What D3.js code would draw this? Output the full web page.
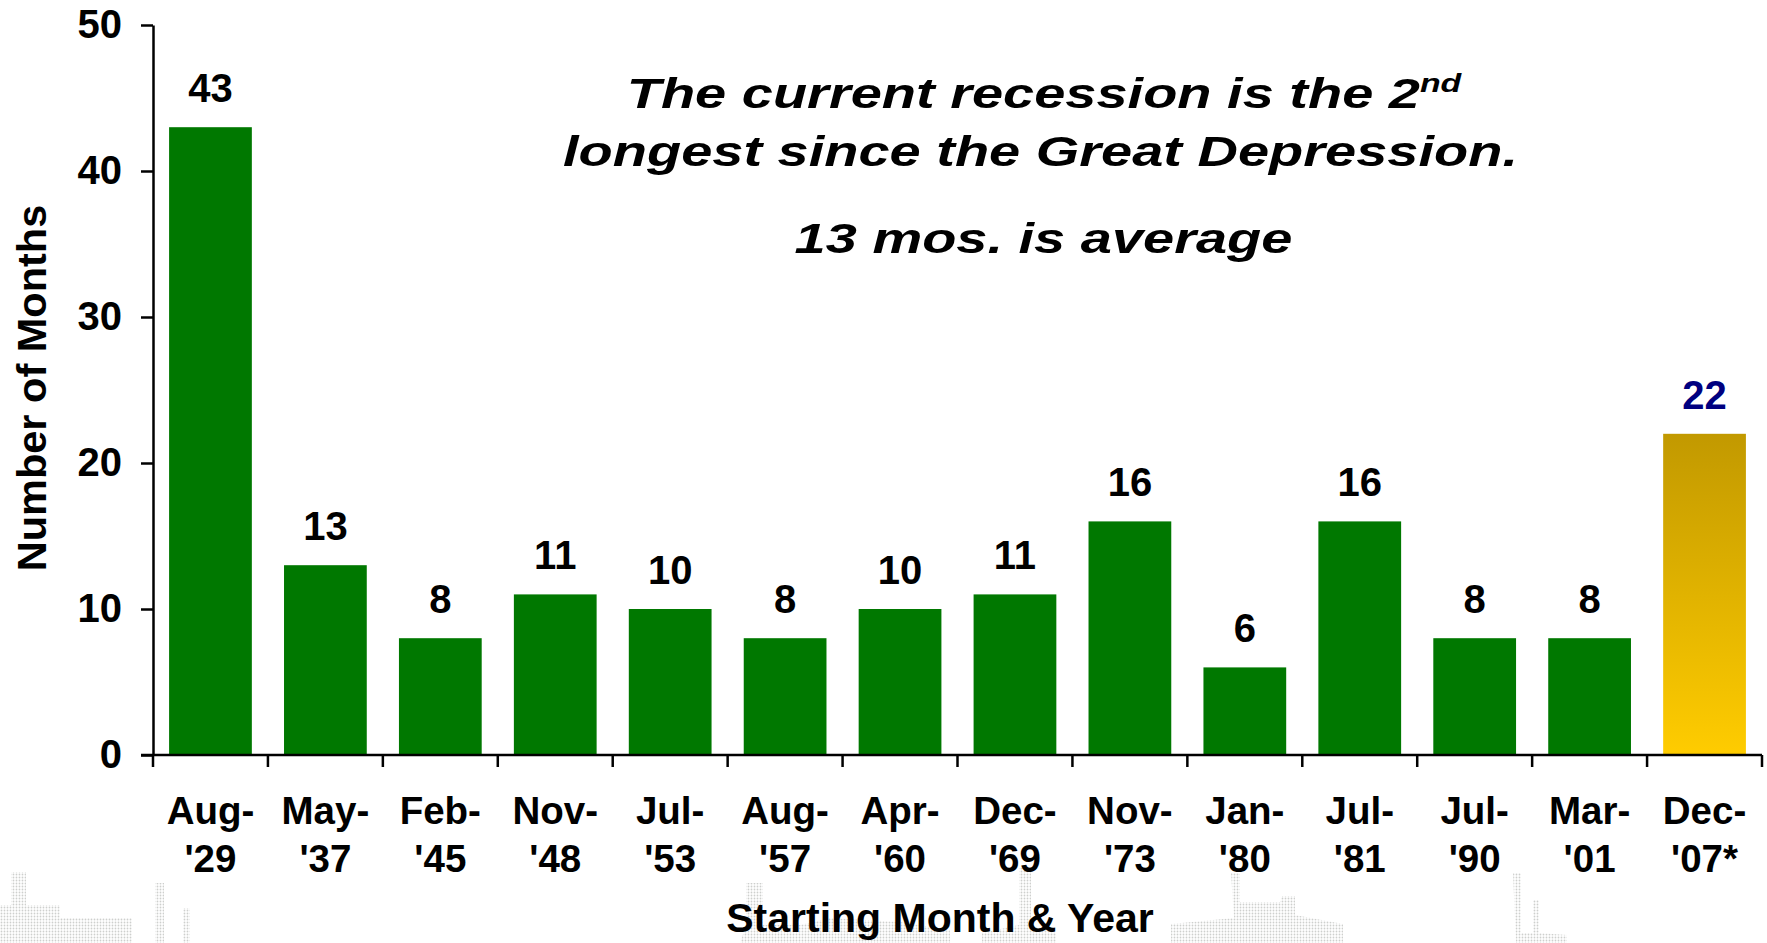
<!DOCTYPE html>
<html>
<head>
<meta charset="utf-8">
<script src="https://cdn.jsdelivr.net/npm/d3@7/dist/d3.min.js"></script>
<style>
  html, body { margin: 0; padding: 0; background: #ffffff; }
  svg { display: block; }
  text { font-family: "Liberation Sans", Arial, sans-serif; }
</style>
</head>
<body>
<svg id="chart" width="1767" height="943"></svg>
<script>
// Recession start dates (month / two-digit year) and their length in months
const startMonths = ["Aug-", "May-", "Feb-", "Nov-", "Jul-", "Aug-", "Apr-", "Dec-", "Nov-", "Jan-", "Jul-", "Jul-", "Mar-", "Dec-"];
const startYears  = ["'29", "'37", "'45", "'48", "'53", "'57", "'60", "'69", "'73", "'80", "'81", "'90", "'01", "'07*"];
const durations   = [43, 13, 8, 11, 10, 8, 10, 11, 16, 6, 16, 8, 8, 22];
const yTicks      = [0, 10, 20, 30, 40, 50];
const currentIndex = 13;   // the ongoing recession, highlighted in gold

const noteLines = [
  { text: "The current recession is the 2", sup: "nd" },
  { text: "longest since the Great Depression." },
  { text: "13 mos. is average" }
];

const svg = d3.select("#chart");
const ids = startMonths.map((m, i) => m + startYears[i]);

const plot = { left: 153, right: 1762, top: 25, bottom: 755 };

const x = d3.scaleBand()
  .domain(ids)
  .range([plot.left, plot.right])
  .paddingInner(0.28)
  .paddingOuter(0.14);

const y = d3.scaleLinear()
  .domain([0, 50])
  .range([plot.bottom, plot.top]);

const defs = svg.append("defs");

// gold gradient for the current recession bar
const grad = defs.append("linearGradient")
  .attr("id", "goldFill")
  .attr("x1", 0).attr("y1", 0).attr("x2", 0).attr("y2", 1);
grad.append("stop").attr("offset", "0%").attr("stop-color", "#c29900");
grad.append("stop").attr("offset", "100%").attr("stop-color", "#ffcc00");

// halftone dot texture for the faded background scenery
const dots = defs.append("pattern")
  .attr("id", "halftone")
  .attr("width", 3).attr("height", 3)
  .attr("patternUnits", "userSpaceOnUse");
dots.append("circle").attr("cx", 1.5).attr("cy", 1.5).attr("r", 0.9).attr("fill", "#8c8f8a");

defs.append("filter")
  .attr("id", "soften")
  .append("feGaussianBlur")
  .attr("stdDeviation", 0.6);

// faded industrial skyline along the bottom edge
const scenery = [
  "M0,920 L0,905 L11,905 L11,872 L26,872 L26,905 L60,905 L60,918 L132,918 L132,943 L0,943 Z",
  "M155,883 L164,883 L164,943 L155,943 Z",
  "M183,908 L190,908 L190,943 L183,943 Z",
  "M746,883 L763,883 L763,925 L800,925 L830,918 L900,922 L950,930 L950,943 L740,943 L746,925 Z",
  "M1019,868 L1031,868 L1031,925 L1056,933 L1056,943 L982,943 L982,933 L1019,925 Z",
  "M1231,873 L1240,873 L1240,902 L1280,902 L1282,896 L1295,896 L1295,915 L1343,924 L1343,943 L1171,943 L1171,924 L1234,918 Z",
  "M1513,873 L1521,873 L1521,933 L1533,933 L1533,900 L1539,900 L1539,933 L1567,935 L1567,943 L1516,943 Z"
];
svg.append("g")
  .attr("opacity", 0.42)
  .attr("filter", "url(#soften)")
  .selectAll("path")
  .data(scenery)
  .join("path")
  .attr("d", d => d)
  .attr("fill", "url(#halftone)");

// bars
svg.append("g")
  .selectAll("rect")
  .data(durations)
  .join("rect")
  .attr("x", (d, i) => x(ids[i]))
  .attr("y", d => y(d))
  .attr("width", x.bandwidth())
  .attr("height", d => y(0) - y(d))
  .attr("fill", (d, i) => i === currentIndex ? "url(#goldFill)" : "#007800");

// value labels
svg.append("g")
  .selectAll("text")
  .data(durations)
  .join("text")
  .attr("x", (d, i) => x(ids[i]) + x.bandwidth() / 2)
  .attr("y", d => y(d) - 25)
  .attr("text-anchor", "middle")
  .attr("font-size", 40)
  .attr("font-weight", "bold")
  .attr("fill", (d, i) => i === currentIndex ? "#000080" : "#000000")
  .text(d => d);

// y axis
const yAxis = svg.append("g")
  .attr("transform", `translate(${plot.left},0)`)
  .call(d3.axisLeft(y).tickValues(yTicks).tickSize(12).tickSizeOuter(0).tickPadding(19));
yAxis.select(".domain").attr("stroke", "#000").attr("stroke-width", 2.5);
yAxis.selectAll(".tick line").attr("stroke", "#000").attr("stroke-width", 2.5);
yAxis.selectAll(".tick text")
  .attr("font-family", "Liberation Sans, Arial, sans-serif")
  .attr("font-size", 40)
  .attr("font-weight", "bold")
  .attr("fill", "#000");

// x axis baseline with ticks at category boundaries
const xAxis = svg.append("g");
xAxis.append("line")
  .attr("x1", plot.left - 12).attr("x2", plot.right)
  .attr("y1", y(0)).attr("y2", y(0))
  .attr("stroke", "#000").attr("stroke-width", 2.5);
xAxis.selectAll("line.tick")
  .data(d3.range(ids.length + 1))
  .join("line")
  .attr("class", "tick")
  .attr("x1", i => plot.left + i * x.step())
  .attr("x2", i => plot.left + i * x.step())
  .attr("y1", y(0)).attr("y2", y(0) + 12)
  .attr("stroke", "#000").attr("stroke-width", 2.5);

// two-line category labels
const catLabels = xAxis.selectAll("text.cat")
  .data(ids)
  .join("text")
  .attr("class", "cat")
  .attr("text-anchor", "middle")
  .attr("font-size", 38.5)
  .attr("font-weight", "bold")
  .attr("fill", "#000");
catLabels.append("tspan")
  .attr("x", d => x(d) + x.bandwidth() / 2)
  .attr("y", 824)
  .text((d, i) => startMonths[i]);
catLabels.append("tspan")
  .attr("x", d => x(d) + x.bandwidth() / 2)
  .attr("y", 872)
  .text((d, i) => startYears[i]);

// axis titles
svg.append("text")
  .attr("transform", "translate(46,388) rotate(-90)")
  .attr("text-anchor", "middle")
  .attr("font-size", 41.5)
  .attr("font-weight", "bold")
  .text("Number of Months");

svg.append("text")
  .attr("x", 940)
  .attr("y", 932)
  .attr("text-anchor", "middle")
  .attr("font-size", 41)
  .attr("font-weight", "bold")
  .text("Starting Month & Year");

// annotation, set in a horizontally widened bold italic face
const noteCenters = [1044, 1040.5, 1043.5];
const noteBaselines = [108, 166, 253];
const note = svg.append("g");
const noteTexts = note.selectAll("text")
  .data(noteLines)
  .join("text")
  .attr("text-anchor", "middle")
  .attr("font-size", 43)
  .attr("font-weight", "bold")
  .attr("font-style", "italic")
  .attr("fill", "#000");
noteTexts.append("tspan").text(d => d.text);
noteTexts.filter(d => d.sup)
  .append("tspan")
  .attr("font-size", 26)
  .attr("dy", -16)
  .text(d => d.sup);

const widest = noteTexts.nodes()[1].getBBox().width;
const stretch = 955 / widest;
noteTexts.attr("transform", (d, i) =>
  `translate(${noteCenters[i]},${noteBaselines[i]}) scale(${stretch},1)`);
</script>
</body>
</html>
